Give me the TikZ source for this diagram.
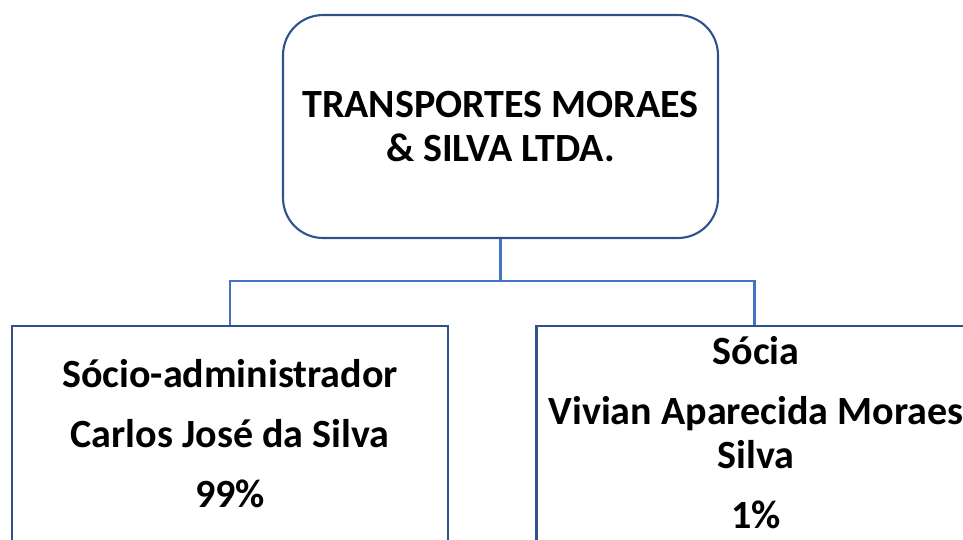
\documentclass[tikz,border=0pt]{standalone}
\usepackage{fontspec}
\setmainfont{Carlito}
\usepackage{tikz}
\usetikzlibrary{arrows.meta,shapes, calc, positioning}

\definecolor{boxblue}{HTML}{2F528F}
\definecolor{linkblue}{HTML}{4472C4}

\begin{document}
\begin{tikzpicture}[x=0.02cm,y=-0.02cm,
    firmbox/.style={draw=boxblue,line width=1.2pt,rounded corners=0.8cm,minimum width=8.7cm,minimum height=4.46cm,align=center,font=\bfseries\fontsize{22.8}{24.5}\selectfont},
    partnerbox/.style={draw=boxblue,line width=1.2pt,minimum width=8.72cm,minimum height=6cm,anchor=north},
    partnertext/.style={anchor=base,align=center,inner sep=0pt,font=\bfseries\fontsize{22.8}{25}\selectfont},
    link/.style={draw=linkblue,line width=1.5pt}]

    \clip (0,0) rectangle (963,539);

    \node[firmbox] (firm) at (500.5,126.5) {TRANSPORTES MORAES\\ \& SILVA LTDA.};

    \node[partnerbox] (adm) at (230,325) {};
    \node[partnerbox] (soc) at (754.5,325) {};

    \node[partnertext] (admtext) at (230,507) {S\'ocio-administrador\\[9pt] Carlos Jos\'e da Silva\\[9pt] 99\%};
    \node[partnertext] (soctext) at (756,528) {S\'ocia\\[9pt] Vivian Aparecida Moraes\\ Silva\\[9pt] 1\%};

    \draw[link] (firm.south) -- ++(0,42) -| (adm.north);
    \draw[link] (firm.south) -- ++(0,42) -| (soc.north);

\end{tikzpicture}
\end{document}
